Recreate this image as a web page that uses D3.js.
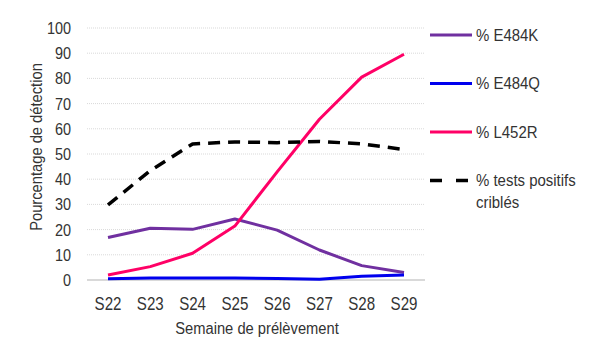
<!DOCTYPE html>
<html>
<head>
<meta charset="utf-8">
<script src="https://cdn.jsdelivr.net/npm/d3@7"></script>
<style>
  body { margin: 0; background: #fff; }
  text { font-family: "Liberation Sans", Arial, sans-serif; fill: #333; }
</style>
</head>
<body>
<div id="chart"></div>
<script>
// Semaines et séries
const weeks = ["S22", "S23", "S24", "S25", "S26", "S27", "S28", "S29"];
const e484k = [16.9, 20.5, 20.1, 24.2, 19.8, 11.9, 5.7, 3.0];
const e484q = [0.5, 0.8, 0.8, 0.8, 0.6, 0.3, 1.5, 2.0];
const l452r = [2.0, 5.3, 10.6, 21.4, 42.9, 63.8, 80.5, 89.6];
const criblés = [29.8, 43.4, 54.0, 54.8, 54.5, 55.0, 54.0, 51.8];
const yTicks = [0, 10, 20, 30, 40, 50, 60, 70, 80, 90, 100];

const series = [
    { name: "% E484K", values: e484k, color: "#7030a0", dash: null },
    { name: "% E484Q", values: e484q, color: "#0000ee", dash: null },
    { name: "% L452R", values: l452r, color: "#ff0066", dash: null },
    { name: "% tests positifs", name2: "criblés", values: criblés, color: "#000", dash: "12 8" }
];

const width = 600, height = 352;
const svg = d3.select("#chart").append("svg")
    .attr("width", width)
    .attr("height", height);

const x = d3.scalePoint().domain(weeks).range([108, 404]);
const y = d3.scaleLinear().domain([0, 100]).range([280, 28]);

// police étroite imitée par un scaleX
const narrow = (sel, px, py, sx) => sel.attr("transform", `translate(${px},${py}) scale(${sx},1)`);

// Grille
svg.append("g")
    .selectAll("line")
    .data(yTicks).enter().append("line")
    .attr("x1", 87).attr("x2", 425)
    .attr("y1", d => y(d)).attr("y2", d => y(d))
    .attr("stroke", "#d9d9d9")
    .attr("stroke-width", d => d === 0 ? 2 : 1)
    .attr("stroke-dasharray", d => d === 0 ? null : "1 1");

// Axe Y (étiquettes)
svg.append("g")
    .selectAll("text")
    .data(yTicks).enter().append("text")
    .each(function(d) { narrow(d3.select(this), 71, y(d), 0.85); })
    .attr("dy", "0.35em")
    .attr("text-anchor", "end")
    .style("font-size", "17px")
    .text(d => d);

// Axe X (étiquettes)
svg.append("g")
    .selectAll("text")
    .data(weeks).enter().append("text")
    .each(function(d) { narrow(d3.select(this), x(d), 310, 0.84); })
    .attr("text-anchor", "middle")
    .style("font-size", "18px")
    .text(d => d);

svg.append("text")
    .call(narrow, 257, 334, 0.92)
    .attr("text-anchor", "middle")
    .style("font-size", "16px")
    .text("Semaine  de prélèvement");

svg.append("text")
    .attr("transform", "translate(42,147) rotate(-90) scale(0.92,1)")
    .attr("text-anchor", "middle")
    .style("font-size", "16px")
    .text("Pourcentage de détection");

// Courbes
const line = d3.line()
    .x((d, i) => x(weeks[i]))
    .y(d => y(d));

svg.append("g")
    .selectAll("path")
    .data(series).enter().append("path")
    .attr("d", d => line(d.values))
    .attr("fill", "none")
    .attr("stroke", d => d.color)
    .attr("stroke-width", d => d.dash ? 3.5 : 3)
    .attr("stroke-dasharray", d => d.dash)
    .attr("stroke-linejoin", "round");

// Légende
const legend = svg.append("g")
    .selectAll("g")
    .data(series).enter().append("g")
    .attr("transform", (d, i) => `translate(430,${35 + i * 48.5})`);

legend.append("line")
    .attr("x1", 0).attr("x2", 42)
    .attr("stroke", d => d.color)
    .attr("stroke-width", d => d.dash ? 3.5 : 3)
    .attr("stroke-dasharray", d => d.dash ? "12 14" : null);

legend.append("text")
    .call(narrow, 46, 0, 0.88)
    .attr("dy", "0.35em")
    .style("font-size", "17px")
    .text(d => d.name);

legend.filter(d => d.name2).append("text")
    .call(narrow, 46, 22, 0.88)
    .attr("dy", "0.35em")
    .style("font-size", "17px")
    .text(d => d.name2);
</script>
</body>
</html>
